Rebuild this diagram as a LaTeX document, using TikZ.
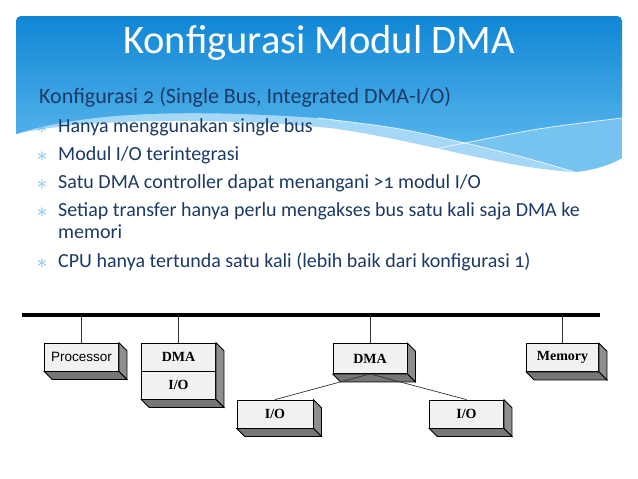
\documentclass[tikz,border=0pt]{standalone}
\usepackage{fontspec}
\setmainfont[Numbers=OldStyle]{Carlito}
\newfontfamily\boxserif{Liberation Serif}
\newfontfamily\boxsans{Liberation Sans}
\usetikzlibrary{positioning}
\definecolor{hdrtop}{HTML}{1086D4}
\definecolor{hdrbot}{HTML}{55B4EC}
\definecolor{wavelight}{HTML}{A4D8F6}
\definecolor{wavemid}{HTML}{76C3F0}
\definecolor{navy}{HTML}{1B3A66}
\definecolor{starblue}{HTML}{6CB9EA}
\definecolor{facegray}{HTML}{F1F1F1}
\definecolor{sidegray}{HTML}{8E8E8E}
\definecolor{basegray}{HTML}{767676}
\tikzset{
  unit/.style={draw=black, line width=.8pt, fill=facegray, minimum width=74pt, minimum height=28pt,
    inner sep=0pt, font=\boxserif\bfseries\fontsize{14}{14}\selectfont},
  tap/.style={draw=black!80, line width=.9pt},
  line/.style={anchor=base west, text=navy, font=\fontsize{20}{24}\selectfont, inner sep=0pt},
}
% right and lower faces of a box (or of a stack from #1 down to #2)
\newcommand\slab[2]{
  \filldraw[fill=sidegray, line width=.8pt] (#1.north east) -- ([shift={(8,8)}]#1.north east)
    -- ([shift={(8,8)}]#2.south east) -- (#2.south east) -- cycle;
  \filldraw[fill=basegray, line width=.8pt] (#2.south west) -- ([shift={(8,8)}]#2.south west)
    -- ([shift={(8,8)}]#2.south east) -- (#2.south east) -- cycle;
}

\begin{document}
\begin{tikzpicture}[x=1pt, y=-1pt]
  \useasboundingbox (0,0) rectangle (638,479);
  \fill[white] (0,0) rectangle (638,479);
  \begin{scope}
    \clip[rounded corners=5pt] (16,16) rectangle (622,220);
    \fill[wavelight] (16,16) -- (622,16) -- (622,158) .. controls (612,164) and (595,170) .. (575,172)
      .. controls (500,168) and (420,140) .. (330,128) .. controls (250,120) and (100,115) .. (16,134) -- cycle;
    \fill[wavemid] (465,143) .. controls (540,128) .. (622,118) -- (622,158)
      .. controls (612,164) and (595,170) .. (575,172) .. controls (520,156) .. (465,143) -- cycle;
    \shade[top color=hdrtop, bottom color=hdrbot] (16,16) -- (622,16) -- (622,118)
      .. controls (540,128) .. (465,143) .. controls (400,128) .. (318,118)
      .. controls (200,110) and (90,110) .. (16,134) -- cycle;
    \draw[white, line width=.8pt, opacity=.8] (318,118) .. controls (400,128) .. (465,143) .. controls (520,156) .. (575,172);
    \draw[white, line width=.8pt, opacity=.8] (391,162) .. controls (430,150) .. (465,143) .. controls (540,128) .. (622,118);
  \end{scope}

  \node[anchor=base, text=white, font=\fontsize{40.5}{44}\selectfont, inner sep=0pt] (title) at (319,53) {Konfigurasi Modul DMA};
  \node[line, font=\fontsize{22}{24}\selectfont] (sub) at (39,103) {Konfigurasi 2 (Single Bus, Integrated DMA-I/O)};
  \foreach \y/\txt [count=\i] in {132/{Hanya menggunakan single bus}, 160/{Modul I/O terintegrasi},
      188/{Satu DMA controller dapat menangani >1 modul I/O},
      216/{Setiap transfer hanya perlu mengakses bus satu kali saja DMA ke},
      267/{CPU hanya tertunda satu kali (lebih baik dari konfigurasi 1)}}{
    \node[anchor=base, text=starblue, font=\fontsize{22}{22}\selectfont, inner sep=0pt] (star\i) at (42,\y+1) {$\ast$};
    \node[line] (b\i) at (58,\y) {\txt};
  }
  \node[line] (b4x) at (58,238) {memori};

  \coordinate (busL) at (22,315);
  \coordinate (busR) at (600,315);
  \draw[line width=3.5pt] (busL) -- (busR);

  \node[unit, font=\boxsans\fontsize{13.5}{13.5}\selectfont] (proc) at (81.5,357) {Processor};
  \node[unit] (dmaA) at (178.5,357) {DMA};
  \node[unit] (ioA) at (178.5,385) {I/O};
  \node[unit, minimum height=30pt] (dmaB) at (370,358.5) {DMA};
  \node[unit, minimum width=72pt] (mem) at (562.5,357.5) {Memory};
  \node[unit, minimum width=76pt] (ioL) at (275,414) {I/O};
  \node[unit] (ioR) at (466.5,414) {I/O};
  \foreach \n in {proc,dmaB,mem,ioL,ioR}{\slab{\n}{\n}}
  \slab{dmaA}{ioA}

  \foreach \n in {proc,dmaB,mem}{\draw[tap] (\n.north |- busL) -- (\n.north);}
  \draw[tap, line width=1.8pt] (dmaA.north |- busL) -- (dmaA.north);
  \draw[tap, line width=.7pt] (dmaB.south) -- (ioL.north);
  \draw[tap, line width=.7pt] (dmaB.south) -- (ioR.north);
\end{tikzpicture}
\end{document}
